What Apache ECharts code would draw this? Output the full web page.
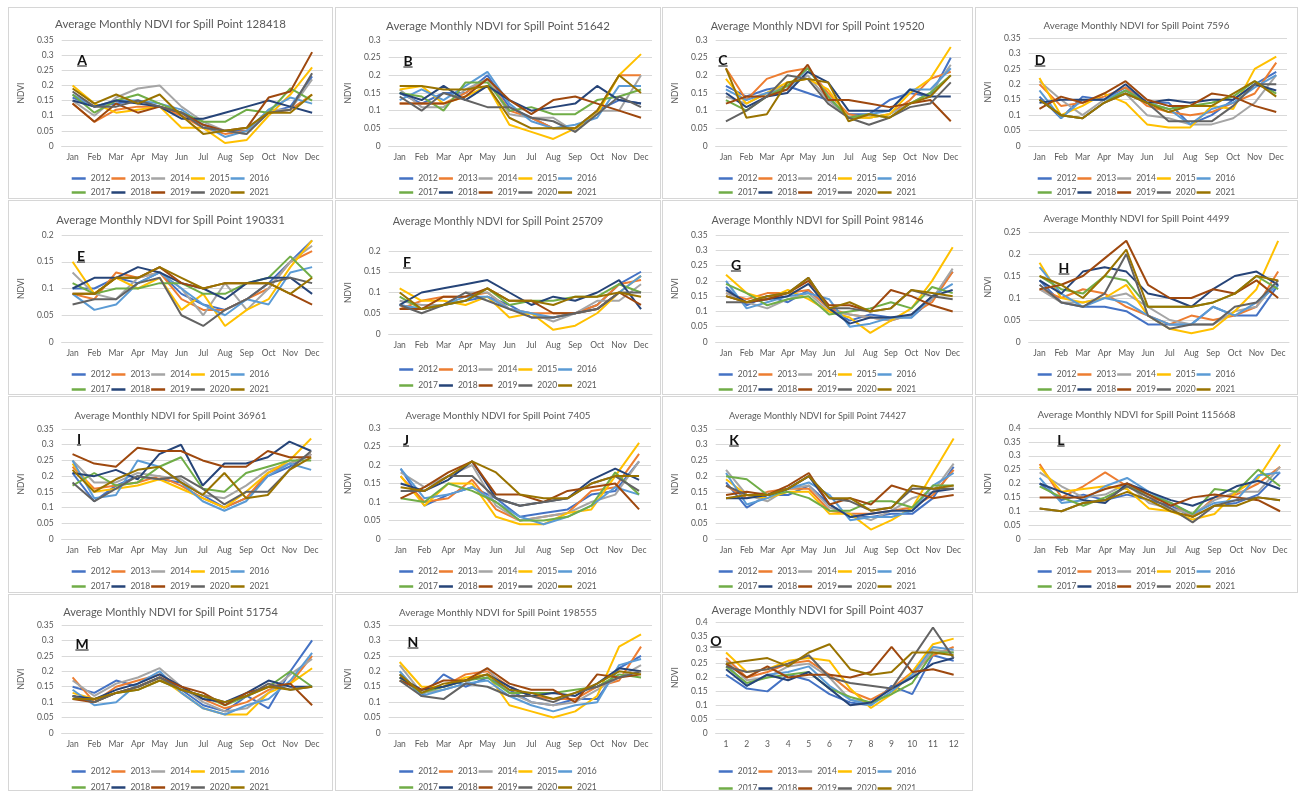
<!DOCTYPE html>
<html>
<head>
<meta charset="utf-8">
<script src="https://cdn.jsdelivr.net/npm/echarts@6/dist/echarts.min.js"></script>
<style>
body { margin: 0; background: #fff; width: 1300px; height: 795px; position: relative; overflow: hidden; }
.panel { position: absolute; border: 1px solid #d6d6d6; box-sizing: border-box; background: #fff; }
.tag { position: absolute; font: bold 14px Lato, "Open Sans", sans-serif; text-decoration: underline; color: #111; transform: translate(-50%, -50%); }
</style>
</head>
<body>
<script>
const years = ["2012", "2013", "2014", "2015", "2016", "2017", "2018", "2019", "2020", "2021"];
const months = ["Jan", "Feb", "Mar", "Apr", "May", "Jun", "Jul", "Aug", "Sep", "Oct", "Nov", "Dec"];
const monthsNoMar = ["Jan", "Feb", "Apr", "May", "Jun", "Jul", "Aug", "Sep", "Oct", "Nov", "Dec"];
const monthNumbers = ["1", "2", "3", "4", "5", "6", "7", "8", "9", "10", "11", "12"];
const spillPoints = ["128418", "51642", "19520", "7596", "190331", "25709", "98146", "4499",
  "36961", "7405", "74427", "115668", "51754", "198555", "4037"];
const panelLetters = ["A", "B", "C", "D", "E", "F", "G", "H", "I", "J", "K", "L", "M", "N", "O"];
const axisMax = [0.35, 0.3, 0.3, 0.35, 0.2, 0.2, 0.35, 0.25, 0.35, 0.3, 0.35, 0.4, 0.35, 0.35, 0.4];
const yearColors = ["#4472C4", "#ED7D31", "#A5A5A5", "#FFC000", "#5B9BD5",
  "#70AD47", "#264478", "#9E480E", "#636363", "#997300"];

// each row is one month, columns are the years 2012 .. 2021
const ndviA = [
  [.16,.14,.15,.20,.17,.17,.15,.14,.18,.19],
  [.13,.08,.10,.14,.13,.11,.13,.08,.13,.14],
  [.14,.12,.16,.11,.15,.15,.15,.14,.13,.17],
  [.15,.13,.19,.12,.15,.17,.14,.11,.15,.14],
  [.13,.13,.20,.13,.14,.14,.13,.13,.13,.17],
  [.11,.10,.13,.06,.12,.11,.09,.11,.11,.10],
  [.07,.06,.08,.06,.07,.08,.09,.07,.06,.04],
  [.05,.04,.05,.01,.03,.08,.11,.05,.05,.05],
  [.05,.05,.04,.02,.05,.12,.13,.06,.04,.06],
  [.11,.11,.12,.10,.12,.11,.15,.16,.11,.11],
  [.13,.12,.12,.17,.16,.19,.13,.18,.12,.11],
  [.23,.17,.22,.26,.14,.15,.11,.31,.24,.17]
];
const ndviB = [
  [.15,.12,.16,.16,.13,.15,.15,.12,.14,.17],
  [.12,.12,.11,.17,.16,.14,.13,.12,.10,.17],
  [.15,.12,.11,.12,.13,.10,.17,.12,.15,.16],
  [.15,.15,.16,.14,.17,.18,.13,.14,.13,.16],
  [.20,.19,.19,.17,.21,.18,.17,.19,.11,.17],
  [.11,.10,.09,.06,.12,.10,.13,.13,.11,.08],
  [.08,.08,.08,.04,.07,.11,.10,.09,.08,.05],
  [.05,.05,.08,.02,.05,.09,.11,.13,.07,.05],
  [.05,.05,.04,.05,.06,.09,.12,.14,.04,.05],
  [.10,.10,.10,.09,.08,.13,.17,.12,.09,.10],
  [.13,.20,.10,.20,.17,.14,.13,.10,.14,.20],
  [.12,.20,.20,.26,.17,.16,.12,.08,.11,.15]
];
const ndviC = [
  [.17,.22,.14,.19,.16,.13,.15,.12,.07,.22],
  [.14,.13,.12,.12,.13,.10,.11,.14,.10,.08],
  [.16,.19,.15,.15,.15,.14,.14,.14,.14,.09],
  [.17,.21,.17,.18,.16,.17,.15,.16,.20,.18],
  [.15,.22,.20,.19,.22,.22,.21,.23,.19,.19],
  [.13,.15,.13,.16,.14,.14,.18,.13,.12,.18],
  [.09,.09,.08,.08,.08,.08,.10,.13,.08,.07],
  [.09,.08,.08,.08,.09,.09,.10,.12,.06,.09],
  [.13,.09,.09,.09,.10,.08,.10,.11,.08,.08],
  [.15,.13,.12,.15,.16,.12,.16,.12,.11,.12],
  [.14,.19,.15,.19,.16,.15,.14,.13,.12,.14],
  [.25,.21,.23,.28,.22,.20,.14,.07,.18,.20]
];
const ndviD = [
  [.16,.20,.21,.22,.18,.15,.14,.12,.15,.15],
  [.09,.13,.15,.10,.09,.10,.15,.16,.10,.10],
  [.16,.14,.10,.13,.15,.09,.15,.14,.09,.09],
  [.15,.16,.15,.17,.15,.14,.15,.17,.14,.14],
  [.19,.19,.17,.14,.18,.18,.20,.21,.17,.17],
  [.14,.13,.10,.07,.14,.14,.14,.15,.14,.14],
  [.14,.11,.09,.06,.12,.12,.15,.13,.08,.11],
  [.07,.10,.07,.06,.07,.13,.14,.13,.08,.13],
  [.10,.11,.07,.13,.12,.14,.15,.17,.08,.13],
  [.15,.14,.09,.12,.14,.16,.15,.16,.13,.17],
  [.20,.17,.14,.25,.19,.21,.20,.13,.20,.21],
  [.24,.27,.23,.29,.23,.17,.18,.11,.20,.16]
];
const ndviE = [
  [.10,.09,.13,.15,.09,.11,.10,.09,.07,.09],
  [.10,.08,.09,.09,.06,.09,.12,.09,.08,.09],
  [.12,.13,.08,.12,.07,.10,.12,.12,.08,.12],
  [.11,.12,.12,.10,.11,.10,.14,.12,.11,.12],
  [.13,.13,.13,.12,.13,.11,.13,.14,.12,.14],
  [.09,.08,.10,.06,.10,.11,.11,.11,.05,.12],
  [.07,.06,.05,.09,.07,.09,.10,.10,.03,.10],
  [.06,.06,.11,.03,.05,.09,.08,.11,.06,.11],
  [.08,.08,.06,.06,.08,.11,.11,.11,.08,.11],
  [.11,.10,.10,.08,.07,.12,.12,.11,.11,.11],
  [.15,.15,.15,.14,.13,.16,.12,.09,.12,.09],
  [.19,.17,.18,.19,.14,.12,.09,.07,.11,.12]
];
const ndviF = [
  [.07,.06,.08,.11,.07,.09,.07,.06,.07,.10],
  [.06,.08,.07,.08,.06,.06,.10,.06,.05,.06],
  [.07,.09,.07,.08,.07,.07,.11,.09,.07,.07],
  [.08,.09,.10,.07,.09,.08,.12,.09,.10,.08],
  [.09,.10,.10,.09,.09,.11,.13,.11,.08,.11],
  [.07,.06,.06,.04,.06,.07,.10,.08,.06,.08],
  [.04,.05,.05,.05,.05,.08,.07,.08,.04,.08],
  [.04,.05,.03,.01,.04,.08,.09,.05,.04,.07],
  [.05,.05,.05,.02,.05,.09,.08,.05,.05,.09],
  [.07,.07,.08,.05,.06,.09,.10,.06,.06,.09],
  [.12,.12,.08,.10,.10,.12,.13,.10,.10,.10],
  [.15,.13,.12,.14,.14,.10,.06,.07,.10,.09]
];
const ndviG = [
  [.18,.16,.16,.22,.20,.19,.17,.15,.13,.15],
  [.12,.14,.13,.16,.11,.16,.13,.13,.13,.13],
  [.15,.16,.11,.14,.13,.12,.14,.14,.15,.15],
  [.13,.16,.14,.17,.15,.14,.15,.16,.16,.16],
  [.17,.17,.16,.14,.16,.15,.19,.20,.21,.21],
  [.11,.11,.10,.10,.14,.09,.11,.12,.11,.11],
  [.07,.09,.09,.08,.05,.10,.06,.12,.11,.13],
  [.09,.08,.08,.03,.06,.11,.08,.10,.10,.10],
  [.08,.07,.07,.07,.08,.13,.08,.17,.11,.11],
  [.08,.09,.09,.11,.08,.11,.09,.15,.17,.17],
  [.14,.13,.14,.20,.15,.18,.15,.12,.15,.16],
  [.23,.23,.24,.31,.19,.16,.17,.10,.14,.15]
];
const ndviH = [
  [.14,.12,.12,.18,.17,.15,.14,.12,.13,.15],
  [.09,.10,.09,.10,.11,.12,.11,.13,.09,.13],
  [.08,.12,.09,.09,.08,.11,.16,.15,.08,.10],
  [.08,.11,.10,.10,.10,.15,.17,.19,.11,.15],
  [.07,.08,.11,.13,.09,.14,.16,.23,.20,.21],
  [.04,.06,.08,.06,.06,.08,.11,.13,.06,.08],
  [.04,.04,.05,.03,.04,.08,.10,.10,.03,.08],
  [.04,.06,.04,.02,.04,.08,.08,.10,.04,.08],
  [.08,.05,.04,.03,.08,.09,.12,.12,.04,.09],
  [.06,.06,.07,.07,.06,.11,.15,.11,.08,.11],
  [.06,.08,.08,.12,.09,.15,.16,.14,.09,.15],
  [.13,.16,.14,.23,.13,.12,.13,.10,.14,.14]
];
const ndviI = [
  [.21,.23,.25,.24,.25,.17,.21,.27,.18,.22],
  [.12,.16,.18,.15,.13,.21,.20,.24,.12,.15],
  [.17,.17,.18,.16,.14,.17,.22,.23,.16,.19],
  [.20,.18,.21,.17,.25,.18,.19,.29,.20,.22],
  [.19,.20,.20,.19,.23,.23,.27,.28,.19,.23],
  [.18,.17,.19,.16,.18,.26,.30,.28,.20,.18],
  [.14,.13,.14,.13,.12,.16,.17,.25,.16,.14],
  [.10,.10,.13,.10,.09,.15,.24,.23,.11,.21],
  [.13,.13,.17,.15,.12,.21,.24,.23,.15,.13],
  [.20,.21,.22,.21,.20,.23,.26,.28,.15,.14],
  [.23,.24,.24,.25,.24,.25,.31,.26,.22,.22],
  [.27,.27,.27,.32,.22,.25,.28,.26,.28,.26]
];
// panel J has no March
const ndviJ = [
  [.19,.17,.18,.17,.19,.11,.15,.11,.13,.14],
  [.09,.10,.14,.09,.11,.10,.13,.14,.13,.13],
  [.12,.11,.17,.15,.12,.15,.16,.18,.17,.17],
  [.14,.16,.20,.15,.14,.13,.21,.21,.17,.21],
  [.11,.08,.09,.06,.10,.10,.11,.12,.11,.18],
  [.06,.05,.05,.04,.06,.05,.09,.12,.09,.12],
  [.07,.06,.06,.04,.04,.05,.10,.10,.10,.11],
  [.08,.07,.07,.07,.06,.06,.11,.13,.11,.11],
  [.12,.13,.10,.08,.09,.09,.16,.14,.15,.15],
  [.13,.14,.12,.17,.14,.18,.19,.15,.17,.17],
  [.21,.23,.21,.26,.12,.12,.16,.08,.13,.17]
];
const ndviK = [
  [.18,.17,.22,.19,.21,.20,.13,.14,.17,.13],
  [.10,.13,.14,.14,.11,.19,.13,.15,.14,.14],
  [.14,.15,.12,.13,.13,.14,.14,.14,.14,.14],
  [.14,.16,.16,.15,.16,.15,.16,.17,.16,.16],
  [.17,.16,.17,.15,.18,.13,.20,.21,.20,.20],
  [.11,.09,.10,.08,.14,.09,.11,.11,.13,.13],
  [.07,.08,.08,.08,.06,.09,.07,.13,.12,.13],
  [.07,.08,.06,.03,.07,.12,.08,.11,.09,.09],
  [.08,.09,.09,.06,.07,.12,.09,.17,.10,.10],
  [.08,.10,.13,.10,.09,.10,.09,.15,.16,.17],
  [.13,.14,.15,.21,.17,.17,.15,.13,.16,.16],
  [.23,.22,.24,.32,.21,.17,.16,.14,.16,.17]
];
const ndviL = [
  [.20,.27,.24,.26,.22,.19,.20,.15,.11,.11],
  [.14,.15,.19,.17,.13,.15,.17,.15,.10,.10],
  [.16,.19,.15,.18,.14,.12,.14,.15,.13,.13],
  [.14,.24,.16,.19,.19,.15,.13,.18,.14,.14],
  [.16,.19,.20,.18,.22,.19,.20,.20,.19,.17],
  [.14,.15,.13,.11,.17,.16,.17,.16,.15,.14],
  [.12,.13,.11,.10,.13,.13,.14,.12,.11,.10],
  [.08,.08,.09,.07,.09,.09,.12,.15,.06,.08],
  [.12,.15,.14,.09,.13,.18,.15,.16,.12,.12],
  [.13,.16,.17,.17,.14,.17,.19,.15,.14,.12],
  [.16,.20,.17,.22,.23,.25,.21,.14,.15,.15],
  [.24,.26,.26,.34,.24,.19,.18,.10,.14,.14]
];
const ndviM = [
  [.15,.18,.17,.13,.14,.12,.12,.11,.12,.11],
  [.13,.10,.12,.11,.09,.10,.11,.10,.10,.11],
  [.17,.15,.16,.13,.10,.13,.14,.13,.13,.13],
  [.15,.17,.18,.15,.16,.14,.16,.15,.15,.14],
  [.18,.19,.21,.18,.20,.17,.19,.18,.18,.17],
  [.14,.15,.15,.13,.13,.14,.15,.15,.14,.14],
  [.09,.11,.10,.08,.08,.12,.11,.13,.12,.12],
  [.07,.08,.07,.06,.06,.09,.10,.09,.10,.10],
  [.12,.10,.08,.06,.09,.12,.13,.13,.12,.12],
  [.08,.14,.13,.13,.11,.15,.17,.15,.16,.15],
  [.20,.16,.19,.16,.17,.20,.15,.16,.14,.14],
  [.30,.25,.24,.21,.26,.15,.15,.09,.15,.15]
];
const ndviN = [
  [.19,.18,.22,.23,.20,.18,.18,.17,.17,.19],
  [.12,.14,.13,.15,.12,.13,.14,.14,.12,.13],
  [.19,.15,.14,.15,.14,.15,.15,.17,.11,.16],
  [.15,.19,.16,.18,.16,.17,.17,.17,.16,.17],
  [.18,.20,.21,.19,.17,.18,.19,.21,.15,.19],
  [.14,.15,.13,.09,.12,.13,.15,.16,.12,.14],
  [.10,.12,.10,.07,.09,.13,.12,.14,.12,.13],
  [.09,.11,.09,.05,.07,.13,.13,.14,.10,.11],
  [.11,.11,.10,.07,.09,.14,.12,.10,.13,.13],
  [.11,.15,.14,.12,.10,.15,.16,.19,.15,.16],
  [.21,.17,.18,.28,.22,.19,.21,.18,.18,.20],
  [.25,.28,.22,.32,.24,.18,.20,.19,.20,.19]
];
const ndviO = [
  [.21,.27,.26,.29,.25,.24,.23,.25,.24,.25],
  [.16,.20,.19,.22,.17,.18,.17,.20,.22,.26],
  [.15,.22,.20,.23,.21,.20,.21,.24,.23,.27],
  [.21,.25,.24,.26,.22,.21,.19,.20,.25,.24],
  [.19,.26,.25,.27,.24,.22,.22,.21,.28,.29],
  [.14,.21,.20,.26,.17,.16,.16,.21,.20,.32],
  [.11,.15,.12,.16,.12,.13,.10,.20,.18,.23],
  [.10,.12,.11,.09,.10,.11,.11,.22,.17,.21],
  [.17,.16,.16,.14,.15,.14,.16,.31,.16,.22],
  [.14,.22,.20,.22,.21,.18,.20,.22,.27,.29],
  [.28,.28,.30,.32,.31,.29,.25,.23,.38,.29],
  [.26,.31,.29,.34,.30,.29,.27,.21,.27,.28]
];
const panelData = [ndviA, ndviB, ndviC, ndviD, ndviE, ndviF, ndviG, ndviH,
  ndviI, ndviJ, ndviK, ndviL, ndviM, ndviN, ndviO];
const panelCats = panelData.map((d, i) => i === 9 ? monthsNoMar : i === 14 ? monthNumbers : months);

// layout, page pixels
const rowBox = [[7, 192], [200, 195], [396, 197], [594, 197]];
const colBox = [[8, 325], [335, 326], [662, 311], [975, 323]];
const plotX = [[55, 323], [384, 652], [706, 961], [1020, 1287], [55, 323], [388, 652], [706, 963], [1020, 1289],
  [55, 322], [382, 651], [706, 964], [1019, 1291], [55, 323], [384, 652], [706, 964]];
const plotY = [[40, 146], [40, 146], [40, 146], [38, 146], [235, 342], [251, 334], [235, 342], [232, 342],
  [429, 539], [428, 539], [429, 539], [428, 539], [625, 733], [625, 733], [622, 733]];
const titleY = [21, 23, 23, 22, 217, 218, 217, 215, 412, 412, 412, 411, 609, 609, 607];
const titleW = [231, 224, 214, 186, 229, 211, 212, 186, 192, 185, 177, 198, 215, 198, 212];
const legendY = [[175, 189], [175, 189], [175, 189], [175, 189], [371, 386], [366, 382], [371, 386], [371, 386],
  [568, 583], [568, 583], [568, 583], [568, 583], [768, 784], [768, 784], [768, 785]];
const nameX = [24, 350, 681, 990, 25, 355, 678, 992, 25, 352, 677, 991, 24, 356, 681];
const tagPos = [[82, 59], [408, 60], [723, 59], [1040, 59], [81, 255], [407, 261], [736, 264], [1064, 267],
  [79, 438], [406, 439], [734, 439], [1061, 439], [82, 643], [413, 641], [716, 640]];

const FONT = "Lato, 'Open Sans', sans-serif";
const measureCtx = document.createElement("canvas").getContext("2d");
function titleSize(text, target) {
  measureCtx.font = "12px " + FONT;
  return 12 * target / measureCtx.measureText(text).width;
}

panelData.forEach((rows, i) => {
  const [top, h] = rowBox[Math.floor(i / 4)];
  const [left, w] = colBox[i % 4];
  const div = document.createElement("div");
  div.className = "panel";
  Object.assign(div.style, { left: left + "px", top: top + "px", width: w + "px", height: h + "px" });
  document.body.appendChild(div);
  const ox = left + 1, oy = top + 1, iw = w - 2, ih = h - 2;

  const title = "Average Monthly NDVI for Spill Point " + spillPoints[i];
  const fs = titleSize(title, titleW[i]);
  const cats = panelCats[i];
  const source = [["month", ...years], ...rows.map((r, k) => [cats[k], ...r])];

  const chart = echarts.init(div);
  chart.setOption({
    animation: false,
    textStyle: { fontFamily: FONT },
    title: {
      text: title, left: "center", top: titleY[i] - oy - fs * 0.62,
      textStyle: { fontSize: fs, fontWeight: "normal", color: "#595959", fontFamily: FONT }
    },
    grid: {
      left: plotX[i][0] - ox, right: iw - (plotX[i][1] - ox),
      top: plotY[i][0] - oy, bottom: ih - (plotY[i][1] - oy)
    },
    legend: [years.slice(0, 5), years.slice(5)].map((d, r) => ({
      data: d, left: "center", top: legendY[i][r] - oy - 6,
      icon: "rect", itemWidth: 14, itemHeight: 2.5, itemGap: 1,
      textStyle: { fontSize: 8.5, color: "#595959", fontFamily: FONT }
    })),
    dataset: { source },
    xAxis: {
      type: "category", boundaryGap: true,
      axisLine: { lineStyle: { color: "#d9d9d9" } },
      axisTick: { show: false },
      axisLabel: { color: "#595959", fontSize: 8.5, margin: 7, interval: 0 }
    },
    yAxis: {
      type: "value", min: 0, max: axisMax[i], interval: 0.05,
      name: "NDVI", nameLocation: "middle", nameGap: plotX[i][0] - nameX[i] - 4,
      nameTextStyle: { color: "#595959", fontSize: 8.5 },
      axisLabel: { color: "#595959", fontSize: 8.5, margin: 8, formatter: v => String(+v.toFixed(2)) },
      splitLine: { lineStyle: { color: "#d9d9d9" } }
    },
    series: years.map((y, k) => ({
      name: y, type: "line", showSymbol: false,
      encode: { x: "month", y: y },
      lineStyle: { width: 2, color: yearColors[k] },
      itemStyle: { color: yearColors[k] }
    }))
  });

  const tag = document.createElement("div");
  tag.className = "tag";
  tag.textContent = panelLetters[i];
  tag.style.left = tagPos[i][0] + "px";
  tag.style.top = tagPos[i][1] + "px";
  document.body.appendChild(tag);
});
</script>
</body>
</html>
